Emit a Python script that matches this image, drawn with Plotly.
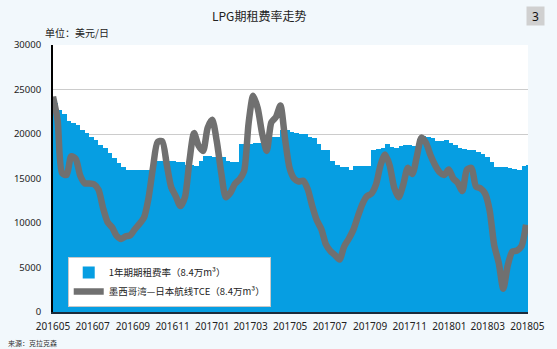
import pandas as pd
import plotly.graph_objects as go

# Weekly periods starting 2016-05-01
weeks = pd.date_range("2016-05-01", periods=105, freq="7D")

# 1-year time-charter rate (USD/day), weekly
tc_rate = [
    23500, 22700, 22300, 21500, 21200, 21000, 20500, 20100, 19700, 19300,
    18750, 18400, 17900, 17300, 16700, 16300, 15950, 15950, 15950, 15950,
    15950, 15950, 17000, 17000, 17000, 17000, 17000, 16900, 16900, 16500,
    16500, 16400, 17000, 17500, 17500, 17400, 17400, 17400, 17000, 16900,
    16900, 18900, 18900, 18900, 18950, 18950, 19700, 19700, 19700, 19700,
    20400, 20400, 20250, 20100, 20000, 20000, 19700, 19500, 18900, 18200,
    18200, 17000, 16500, 16300, 16300, 15950, 16350, 16350, 16350, 16350,
    18200, 18300, 18400, 18900, 18500, 18400, 18600, 18750, 18750, 18600,
    19400, 19800, 19700, 19600, 19200, 19250, 19300, 19000, 18800, 18450,
    18300, 18200, 18150, 18000, 17800, 17400, 16900, 16300, 16250, 16250,
    16150, 16100, 16000, 16400, 16500,
]

# Gulf of Mexico - Japan TCE (USD/day), weekly
tce = [
    24200, 21600, 15600, 15400, 17500, 17200, 15300, 14450, 14450, 14350,
    13750, 11700, 10100, 9500, 8550, 8200, 8500, 8630, 9300, 9900,
    10600, 12800, 16300, 19100, 19200, 16600, 14000, 13000, 11900, 12900,
    17000, 20100, 18700, 18100, 20700, 21600, 19200, 15600, 12900, 13400,
    14400, 14900, 15800, 21200, 24300, 22900, 20000, 18100, 21300, 21900,
    23200, 19500, 16200, 15000, 14650, 14750, 13800, 11900, 10300, 9300,
    7600, 6850, 6400, 5900, 7350, 8200, 9200, 10700, 12100, 13000,
    13300, 14300, 16500, 17700, 16500, 14000, 12900, 14300, 16200, 15500,
    17500, 19600, 19000, 17600, 16500, 15700, 15400, 16000, 15000, 14500,
    13600, 16000, 16200, 14100, 13900, 13300, 11400, 7500, 5500, 2600,
    5300, 6800, 6900, 7400, 9800,
]

y_ticks = [0, 5000, 10000, 15000, 20000, 25000, 30000]

name_tc = "1年期期租费率（8.4万m³）"
name_tce = "墨西哥湾—日本航线TCE（8.4万m³）"

CJK = "Noto Sans CJK SC"
week_ms = 7 * 24 * 3600 * 1000

fig = go.Figure()
fig.add_trace(go.Bar(
    x=weeks, y=tc_rate, name=name_tc,
    width=week_ms, offset=0,
    marker=dict(color="#069ee2", line=dict(width=0)),
))
fig.add_trace(go.Scatter(
    x=weeks, y=tce, name=name_tce, mode="lines",
    line=dict(color="#707070", width=6.5, shape="spline", smoothing=0.7),
))

fig.update_layout(
    width=557, height=349,
    margin=dict(l=53, r=24, t=45, b=37),
    paper_bgcolor="#f2f8fc",
    plot_bgcolor="#ffffff",
    bargap=0,
    showlegend=True,
    legend=dict(
        x=0.031, y=0.206, xanchor="left", yanchor="top",
        bgcolor="#ffffff", bordercolor="#c8c8c8", borderwidth=1,
        font=dict(family=CJK, size=9.5, color="#222222"),
        traceorder="normal", tracegroupgap=2,
    ),
    xaxis=dict(
        type="date",
        range=["2016-05-01", "2018-05-02"],
        tick0="2016-05-01", dtick="M2", tickformat="%Y%m",
        showgrid=False, zeroline=False,
        showline=True, linecolor="#1b2b3b", linewidth=1.5,
        ticks="", ticklabelstandoff=4,
        tickfont=dict(family="Noto Sans", size=10, color="#222222"),
    ),
    yaxis=dict(
        range=[0, 30000],
        tickvals=y_ticks,
        ticktext=[str(v) for v in y_ticks],
        showgrid=True, gridcolor="#cccccc", gridwidth=1,
        zeroline=False,
        showline=True, linecolor="#000000", linewidth=2,
        ticks="", ticklabelstandoff=8,
        tickfont=dict(family="Noto Sans", size=9.5, color="#222222"),
    ),
    annotations=[
        dict(text="LPG期租费率走势", xref="paper", yref="paper",
             x=(261 - 53) / 480, y=1 + (45 - 16) / 267, xanchor="center", yanchor="middle",
             showarrow=False, font=dict(family=CJK, size=12, color="#222222")),
        dict(text="单位：美元/日", xref="paper", yref="paper",
             x=(43 - 53) / 480, y=1 + (45 - 33) / 267, xanchor="left", yanchor="middle",
             showarrow=False, font=dict(family=CJK, size=10, color="#222222")),
        dict(text="3", xref="paper", yref="paper",
             x=(540.5 - 53) / 480, y=1 + (45 - 16) / 267, xanchor="center", yanchor="middle",
             showarrow=False, bgcolor="#d0d0d0", width=15, height=16,
             font=dict(family="Noto Sans", size=12, color="#111111")),
        dict(text="来源：克拉克森", xref="paper", yref="paper",
             x=(5 - 53) / 480, y=-(343 - 312) / 267, xanchor="left", yanchor="middle",
             showarrow=False, font=dict(family=CJK, size=7, color="#333333")),
    ],
)

fig.write_html("out.html")
